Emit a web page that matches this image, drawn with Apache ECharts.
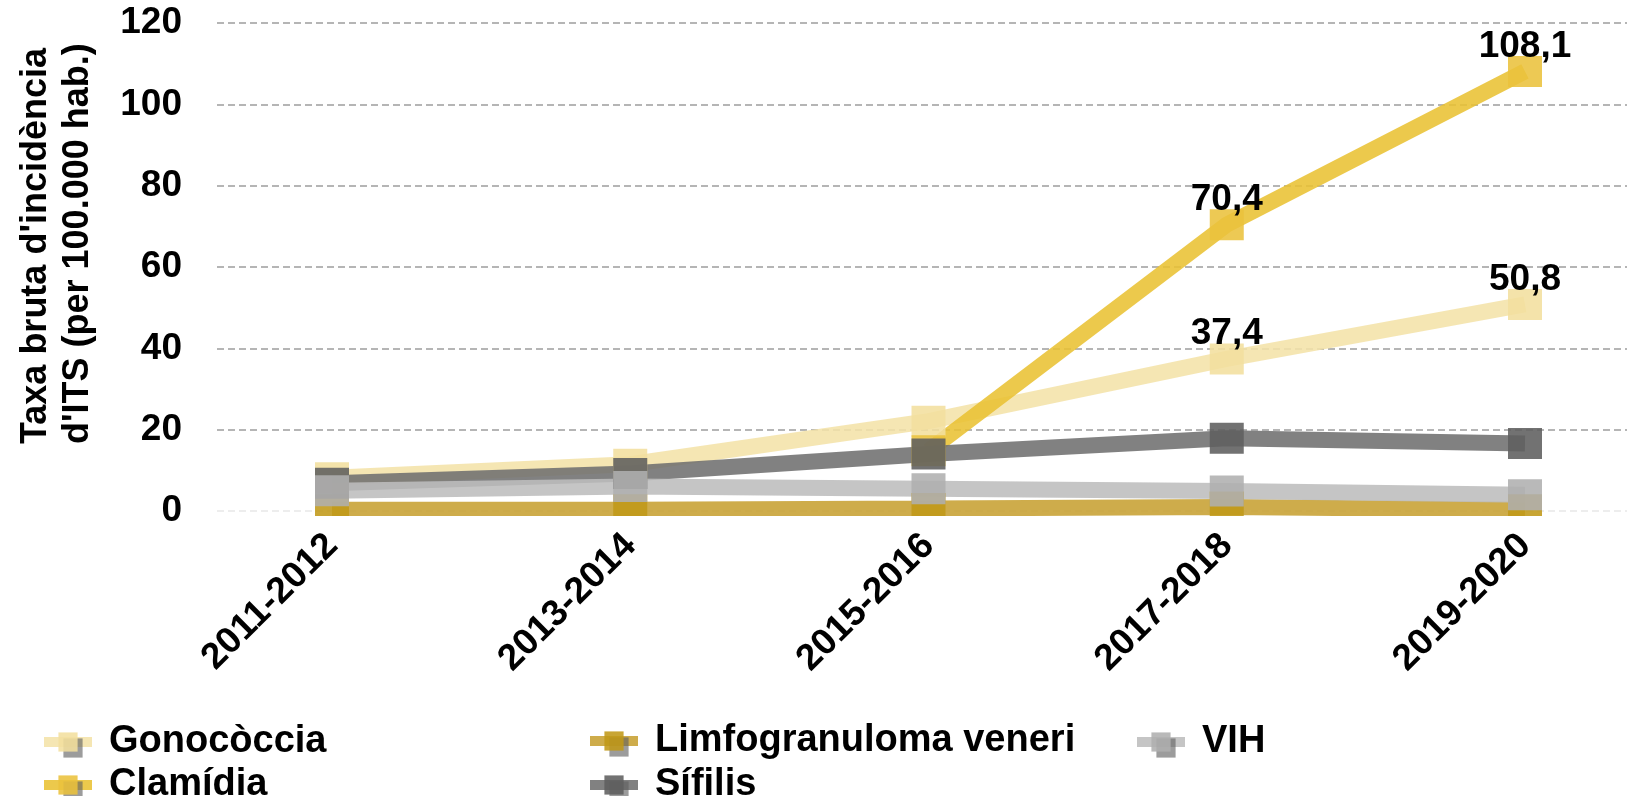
<!DOCTYPE html>
<html>
<head>
<meta charset="utf-8">
<script src="https://cdn.jsdelivr.net/npm/echarts@6/dist/echarts.min.js"></script>
<style>
html,body{margin:0;padding:0;background:#fff;}
#chart{width:1627px;height:796px;}
</style>
</head>
<body>
<div id="chart"></div>
<script>
const categories = ['2011-2012', '2013-2014', '2015-2016', '2017-2018', '2019-2020'];
const gonococcia = [8.2, 11.5, 22.1, 37.4, 50.8];
const clamidia = [null, null, 14.8, 70.4, 108.1];
const limfogranuloma = [0.3, 0.3, 0.6, 1.0, 0.3];
const sifilis = [6.8, 9.2, 14.0, 17.9, 16.6];
const vih = [5.0, 6.0, 5.5, 4.9, 4.0];
const labelledIndices = [3, 4];
const yAxisTitle = ["Taxa bruta d'incidència", "d'ITS (per 100.000 hab.)"];

const FONT = '"Liberation Sans", Arial, sans-serif';

function withLabels(values, show) {
  return values.map((v, i) => ({
    value: v,
    label: { show: show && labelledIndices.includes(i) && v != null }
  }));
}

function makeSeries(name, values, lineColor, markerColor, labels) {
  return {
    name: name,
    type: 'line',
    xAxisIndex: 1,
    yAxisIndex: 1,
    data: withLabels(values, labels),
    symbol: 'rect',
    symbolSize: [34, 31],
    showSymbol: true,
    clip: true,
    lineStyle: { color: lineColor, width: 16, opacity: 0.88 },
    itemStyle: { color: markerColor, opacity: 0.88 },
    label: {
      position: 'top',
      distance: -9,
      color: '#000',
      opacity: 1,
      fontFamily: FONT,
      fontWeight: 'bold',
      fontSize: 37,
      formatter: p => String(p.value).replace('.', ',')
    },
    emphasis: { disabled: true },
    animation: false
  };
}

const chart = echarts.init(document.getElementById('chart'), null, { renderer: 'canvas' });

function legendAt(name, left, centerY) {
  return {
    orient: 'horizontal',
    left: left,
    top: centerY - 20,
    data: [name],
    itemWidth: 48,
    itemHeight: 24,
    lineStyle: { width: 10 },
    itemStyle: { shadowColor: 'rgba(95,95,95,0.7)', shadowOffsetX: 5, shadowOffsetY: 6, shadowBlur: 0 },
    textStyle: { fontFamily: FONT, fontWeight: 'bold', fontSize: 38, color: '#000', lineHeight: 40, padding: [0, 0, 0, 12] },
    selectedMode: false
  };
}

chart.setOption({
  animation: false,
  backgroundColor: '#fff',
  grid: [
    { left: 217, right: 0, top: 23, bottom: 285 },
    { left: 332, right: 102, top: 23, bottom: 280 }
  ],
  xAxis: [
    { type: 'category', gridIndex: 0, data: categories, show: false },
    {
      type: 'category', gridIndex: 1, data: categories, boundaryGap: false,
      axisLine: { show: false }, axisTick: { show: false },
      axisLabel: {
        rotate: 45, margin: 24, interval: 0,
        fontFamily: FONT, fontWeight: 'bold', fontSize: 37, color: '#000'
      }
    }
  ],
  yAxis: [
    {
      type: 'value', gridIndex: 0, min: 0, max: 120, interval: 20,
      axisLine: { show: false }, axisTick: { show: false },
      axisLabel: { margin: 35, fontFamily: FONT, fontWeight: 'bold', fontSize: 37, color: '#000' },
      splitLine: {
        show: true,
        lineStyle: {
          color: ['#ededed', '#b5b5b5', '#b5b5b5', '#b5b5b5', '#b5b5b5', '#b5b5b5', '#b5b5b5'],
          width: 2, type: [7, 4]
        }
      }
    },
    { type: 'value', gridIndex: 1, min: -1.23, max: 120, show: false, splitLine: { show: false } }
  ],
  legend: [
    legendAt('Gonocòccia', 34, 737),
    legendAt('Clamídia', 34, 780),
    legendAt('Limfogranuloma veneri', 580, 736),
    legendAt('Sífilis', 580, 780),
    legendAt('VIH', 1127, 737)
  ],
  graphic: [
    {
      type: 'rect', z: 100,
      shape: { x: 300, y: 516, width: 1300, height: 10 },
      style: { fill: '#fff' }
    },
    {
      type: 'text', x: 57, y: 444, rotation: Math.PI / 2,
      style: {
        text: yAxisTitle.join('\n'),
        fontFamily: FONT, fontWeight: 'bold', fontSize: 36, fill: '#000',
        textAlign: 'left', textVerticalAlign: 'middle', lineHeight: 42
      }
    }
  ],
  series: [
    makeSeries('Gonocòccia', gonococcia, '#F4E2A8', '#F3DF9E', true),
    makeSeries('Clamídia', clamidia, '#E9C133', '#EAC23C', true),
    makeSeries('Limfogranuloma veneri', limfogranuloma, '#C7A032', '#C09818', false),
    makeSeries('Sífilis', sifilis, '#707070', '#5f5f5f', false),
    makeSeries('VIH', vih, '#BDBDBD', '#AFAFAF', false)
  ]
});
</script>
</body>
</html>
